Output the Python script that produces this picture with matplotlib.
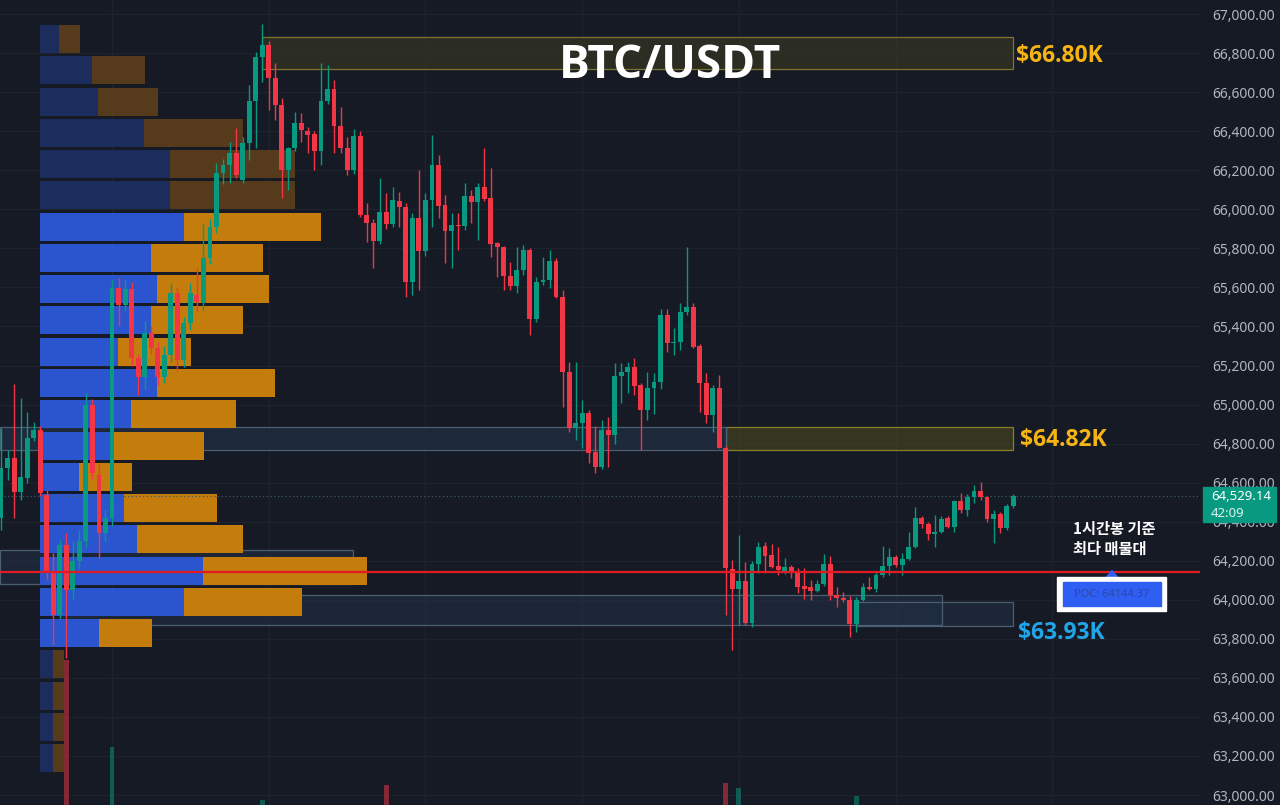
import numpy as np
import matplotlib
matplotlib.use("Agg")
import matplotlib.pyplot as plt
from matplotlib.patches import Rectangle, Polygon

# ---------------- data ----------------
opens = [64419, 64675, 64726, 64552, 64624, 64829, 64870, 64537, 64137, 63922,
         64280, 64050, 64200, 64300, 65000, 64640, 64340, 64420, 65597, 65510,
         65590, 65238, 65140, 65366, 65290, 65140, 65254, 65570, 65228, 65417,
         65560, 65520, 65750, 65909, 66186, 66227, 66288, 66150, 66340, 66554,
         66780, 66841, 66672, 66534, 66200, 66314, 66442, 66400, 66385, 66298,
         66554, 66616, 66426, 66314, 66200, 66375, 65970, 65930, 65837, 65986,
         65924, 66042, 66012, 65627, 65955, 65786, 66047, 66227, 66022, 65889,
         65920, 65914, 66068, 66037, 66114, 66058, 65827, 65807, 65658, 65607,
         65689, 65791, 65438, 65627, 65637, 65735, 65551, 65166, 64880, 64905,
         64956, 64757, 64680, 64869, 64844, 65146, 65166, 65192, 65100, 64972,
         65085, 65115, 65458, 65315, 65320, 65474, 65500, 65300, 65110, 64946,
         65085, 64777, 64158, 64055, 64096, 63880, 64183, 64276, 64230, 64173,
         64150, 64168, 64137, 64071, 64066, 64045, 64081, 64183, 64025, 64010,
         64000, 63876, 64000, 64066, 64055, 64126, 64173, 64219, 64178, 64209,
         64270, 64419, 64389, 64337, 64348, 64419, 64373, 64506, 64460, 64527,
         64557, 64527, 64414, 64440, 64368, 64480]
highs = [64880, 64767, 65105, 65033, 64961, 64910, 64890, 64560, 64240, 64306,
         64340, 64300, 64360, 65059, 65030, 64700, 64460, 65640, 65650, 65640,
         65630, 65260, 65430, 65400, 65320, 65300, 65620, 65600, 65450, 65620,
         65700, 65930, 65950, 66237, 66260, 66344, 66416, 66370, 66636, 66805,
         66949, 66860, 66750, 66570, 66319, 66498, 66493, 66420, 66400, 66749,
         66739, 66662, 66523, 66370, 66410, 66400, 66032, 65950, 66160, 66083,
         66114, 66088, 66032, 65981, 66201, 66083, 66380, 66278, 66073, 65981,
         65981, 66134, 66098, 66134, 66314, 66211, 65832, 65810, 65730, 65807,
         65817, 65800, 65653, 65755, 65791, 65750, 65587, 65217, 65217, 65023,
         64970, 64890, 64920, 64936, 65212, 65212, 65217, 65238, 65110, 65166,
         65160, 65490, 65490, 65391, 65520, 65807, 65520, 65310, 65160, 65100,
         65150, 64790, 64204, 64332, 64193, 64200, 64296, 64296, 64286, 64270,
         64214, 64180, 64162, 64162, 64101, 64101, 64234, 64224, 64065, 64040,
         64020, 64014, 64086, 64116, 64142, 64275, 64265, 64229, 64239, 64347,
         64475, 64429, 64398, 64434, 64429, 64429, 64510, 64546, 64541, 64587,
         64603, 64531, 64460, 64449, 64490, 64540]
lows = [64357, 64613, 64419, 64511, 64598, 64815, 64530, 64100, 63768, 63906,
        63700, 64000, 64160, 64270, 64620, 64214, 64300, 64380, 65400, 65480,
        65200, 65048, 65080, 65260, 65100, 65110, 65220, 65170, 65190, 65380,
        65480, 65484, 65720, 65880, 66130, 66134, 66160, 66134, 66252, 66314,
        66652, 66508, 66457, 66057, 66098, 66300, 66344, 66288, 66201, 66226,
        66540, 66288, 66288, 66175, 66180, 65960, 65832, 65699, 65820, 65900,
        65910, 65909, 65551, 65560, 65587, 65760, 65909, 65955, 65724, 65699,
        65791, 65893, 65929, 65842, 66040, 65755, 65653, 65587, 65587, 65571,
        65663, 65356, 65422, 65612, 65597, 65545, 64987, 64860, 64818, 64777,
        64700, 64649, 64670, 64680, 64800, 65008, 65059, 65049, 64767, 64920,
        64950, 65080, 65270, 65253, 65280, 65460, 65290, 64960, 64905, 64859,
        64777, 63922, 63743, 63871, 63871, 63860, 64137, 64137, 64163, 64127,
        64132, 64110, 64035, 64004, 64000, 64040, 64070, 63999, 63963, 63990,
        63809, 63835, 63995, 64050, 64040, 64116, 64127, 64170, 64127, 64203,
        64265, 64370, 64306, 64270, 64340, 64367, 64347, 64444, 64429, 64495,
        64511, 64398, 64290, 64342, 64357, 64470]
closes = [64675, 64726, 64552, 64629, 64829, 64870, 64547, 64137, 63922, 64280,
          64050, 64200, 64300, 65000, 64650, 64340, 64420, 65597, 65510, 65590,
          65238, 65140, 65366, 65290, 65140, 65254, 65570, 65228, 65417, 65570,
          65525, 65750, 65909, 66186, 66227, 66288, 66175, 66339, 66554, 66780,
          66841, 66672, 66534, 66200, 66314, 66442, 66406, 66380, 66298, 66554,
          66616, 66426, 66314, 66200, 66375, 65970, 65930, 65837, 65986, 65924,
          66047, 66012, 65627, 65955, 65786, 66047, 66227, 66017, 65889, 65920,
          65914, 66068, 66037, 66114, 66053, 65822, 65807, 65658, 65607, 65689,
          65791, 65438, 65627, 65637, 65735, 65551, 65166, 64880, 64905, 64956,
          64751, 64680, 64869, 64844, 65146, 65166, 65192, 65095, 64972, 65085,
          65115, 65458, 65315, 65320, 65474, 65500, 65295, 65110, 64946, 65085,
          64777, 64163, 64055, 64096, 63880, 64183, 64270, 64225, 64168, 64153,
          64168, 64137, 64066, 64055, 64045, 64081, 64183, 64025, 64010, 64000,
          63876, 64000, 64066, 64055, 64126, 64173, 64219, 64178, 64209, 64270,
          64419, 64389, 64337, 64348, 64414, 64373, 64506, 64460, 64527, 64557,
          64527, 64414, 64440, 64368, 64480, 64529.14]

# visible volume bars (candle index, volume)
vol_idx = [10, 17, 40, 59, 111, 113, 131]
vol_val = [2900, 1160, 100, 400, 440, 340, 180]

# volume profile, top row first (buy / sell volume per price row)
prof_buy = [190, 520, 580, 1040, 1300, 1300, 1440, 1110, 1170, 1110, 780, 1170,
            910, 740, 390, 840, 970, 1630, 1440, 590, 130, 130, 130, 130]
prof_sell = [210, 530, 600, 990, 1250, 1250, 1370, 1120, 1120, 920, 730, 1180,
             1050, 900, 530, 930, 1060, 1640, 1180, 530, 110, 110, 110, 110]
prof_in_va = [False] * 6 + [True] * 14 + [False] * 4
prof_top, prof_bottom = 66944, 63100

poc = 64144.37
last_price = 64529.14
res_top = (66718, 66882)      # $66.80K zone
res_mid = (64767, 64885)      # $64.82K zone
sup_low = (63866, 63988)      # $63.93K zone
zone_a = (64081, 64255)
zone_b = (63871, 64025)

# ---------------- style ----------------
BG = "#161a25"
GREEN = "#089981"
RED = "#f23645"
GRID = "#1e222d"
YEL = "#f5b414"
CYAN = "#22a5e6"

plt.rcParams["font.family"] = ["Noto Sans", "DejaVu Sans"]

W, H = 1280, 805
fig = plt.figure(figsize=(W / 100, H / 100), dpi=100)
fig.patch.set_facecolor(BG)

PLOT_W = 1200
PX = 6.53  # pixels per candle
ax = fig.add_axes([0, 0, PLOT_W / W, 1])
ax.set_facecolor(BG)
x0 = -1 / PX
ax.set_xlim(x0, x0 + PLOT_W / PX)
ax.set_ylim(62949, 67072)
for s in ax.spines.values():
    s.set_visible(False)
ax.set_xticks([])
ticks = np.arange(63000, 67001, 200)
ax.set_yticks(ticks)
ax.set_yticklabels([f"{t:,.2f}" for t in ticks])
ax.yaxis.tick_right()
ax.tick_params(axis="y", length=0, pad=8.6, labelcolor="#b2b5be", labelsize=10)
for t in ticks:
    ax.axhline(t, color=GRID, lw=0.9, zorder=0)
for d in [17, 41, 65, 89, 113, 137, 161]:
    ax.axvline(d, color=GRID, lw=0.9, zorder=0)

n = len(opens)
idx = np.arange(n)
o = np.array(opens, float)
h = np.array(highs, float)
l = np.array(lows, float)
c = np.array(closes, float)
cols = np.where(c >= o, GREEN, RED)

# zones (behind everything)
xr = 155
def zone(x_a, x_b, yr, fc, ec, alpha=0.55):
    ax.add_patch(Rectangle((x_a, yr[0]), x_b - x_a, yr[1] - yr[0], facecolor=fc,
                           edgecolor="none", alpha=alpha, zorder=1))
    ax.add_patch(Rectangle((x_a, yr[0]), x_b - x_a, yr[1] - yr[0], facecolor="none",
                           edgecolor=ec, lw=0.9, zorder=1.5))

zone(40, xr, res_top, "#3a3a22", "#7f7430", 0.6)
zone(111, xr, res_mid, "#44431f", "#8a7d2e", 0.7)
zone(x0, 111, res_mid, "#22324a", "#4c5f70", 0.6)
zone(x0, 53.9, zone_a, "#22324a", "#4c5f70", 0.5)
zone(9, 144.1, zone_b, "#22324a", "#4c5f70", 0.5)
zone(131.1, xr, sup_low, "#22324a", "#4c5f70", 0.5)

# volume profile
nrows = len(prof_buy)
step = (prof_top - prof_bottom) / nrows
left = x0 + 40 / PX
unit = 0.1 / PX  # axis units per volume unit
for k in range(nrows):
    top = prof_top - k * step
    hgt = step * 0.895
    yc = top - hgt / 2
    b = prof_buy[k] * unit
    s_ = prof_sell[k] * unit
    cb = "#2a55cf" if prof_in_va[k] else "#1c2c5c"
    cs = "#c47c0c" if prof_in_va[k] else "#553b1c"
    ax.barh(yc, b, height=hgt, left=left, color=cb, lw=0, zorder=3)
    ax.barh(yc, s_, height=hgt, left=left + b, color=cs, lw=0, zorder=3)

# candles
ax.vlines(idx, l, h, colors=cols, lw=1.0, zorder=5)
body_b = np.minimum(o, c)
body_h = np.maximum(np.abs(c - o), 6)
ax.bar(idx, body_h, bottom=body_b, width=0.75, color=cols, lw=0, zorder=6)

# POC line and last-price line
ax.axhline(poc, color="#e01b24", lw=1.6, zorder=7)
ax.axhline(last_price, color="#3d5a66", lw=0.9, ls=(0, (1, 2)), zorder=4)

# zone labels
lbl = dict(fontsize=16.5, weight="bold", family=["Open Sans", "DejaVu Sans"],
           va="center_baseline", ha="left", zorder=8)
ax.text(xr + 0.45, 66800, "$66.80K", color=YEL, **lbl)
ax.text(xr + 1.0, 64835, "$64.82K", color=YEL, **lbl)
ax.text(xr + 0.7, 63845, "$63.93K", color=CYAN, **lbl)

# volume bars
axv = fig.add_axes([0, 0, PLOT_W / W, 1], sharex=ax)
axv.set_ylim(0, 16100)
axv.axis("off")
axv.patch.set_alpha(0)
vcols = [GREEN if c[i] >= o[i] else RED for i in vol_idx]
axv.bar(vol_idx, vol_val, width=0.75, color=vcols, alpha=0.5, lw=0)

# overlay in pixel coords for annotations
ov = fig.add_axes([0, 0, 1, 1])
ov.set_xlim(0, W)
ov.set_ylim(H, 0)
ov.axis("off")
ov.patch.set_alpha(0)

ov.text(670, 60, "BTC/USDT", ha="center", va="center_baseline", fontsize=33, weight="bold",
        color="white", family=["Open Sans", "DejaVu Sans"])

# last price tag
ov.add_patch(Rectangle((1203, 487), 73, 35, color=GREEN, zorder=5))
ov.text(1211, 496, f"{last_price:,.2f}", color="white", fontsize=9.5, weight="bold",
        va="center", ha="left", zorder=6)
ov.text(1211, 513, "42:09", color="#dff2ee", fontsize=9.5, va="center", ha="left", zorder=6)

# Korean annotation
ov.text(1073, 539, "1시간봉 기준\n최다 매물대", color="white", fontsize=11,
        family=["Noto Sans CJK KR", "DejaVu Sans"], weight="bold",
        va="center", ha="left", linespacing=1.3)

# POC callout
ov.add_patch(Polygon([[1106.5, 577], [1117.5, 577], [1112, 570.5]], closed=True,
                     color="#2f5ef2", zorder=5))
ov.add_patch(Rectangle((1057, 577), 109, 34, color="white", zorder=5))
ov.add_patch(Rectangle((1063, 582), 98, 24, color="#2f5ef2", zorder=6))
ov.text(1112, 594.5, f"POC: {poc:.2f}", color="#3048a6", fontsize=8, ha="center",
        va="center", zorder=7)

fig.savefig("out.png", dpi=100, facecolor=BG)
